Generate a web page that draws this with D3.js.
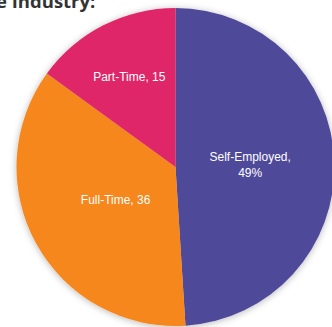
<!DOCTYPE html>
<html><head><meta charset="utf-8">
<script src="https://cdn.jsdelivr.net/npm/d3@7"></script>
<style>html,body{margin:0;padding:0;background:#fff;overflow:hidden}</style>
</head><body>
<svg id="c" width="332" height="327"></svg>
<script>
const categories = ["Self-Employed", "Full-Time", "Part-Time"];
const values = [49, 36, 15];
const labelTexts = [["Self-Employed,", "49%"], ["Full-Time, 36"], ["Part-Time, 15"]];
const colors = ["#504a9a", "#f6871f", "#df2667"];
const titleText = "e Industry:";

const W = 332, H = 327, cx = 175.5, cy = 167, R = 159;
const labelFrac = [0.47, 0.43, 0.64];

const svg = d3.select("#c");
const defs = svg.append("defs");
const f = defs.append("filter").attr("id","sh").attr("x","-20%").attr("y","-20%").attr("width","140%").attr("height","140%");
f.append("feDropShadow").attr("dx",0).attr("dy",1).attr("stdDeviation",3.5).attr("flood-color","#000").attr("flood-opacity",0.28);

svg.append("text").attr("x", -4).attr("y", 8)
  .attr("font-family","'Open Sans', sans-serif").attr("font-weight",700)
  .attr("font-size",18.5).attr("fill","#333").text(titleText);

const pie = d3.pie().sort(null).value(d => d.v);
const data = categories.map((c,i)=>({c, v: values[i], i}));
const arcs = pie(data);
const arc = d3.arc().innerRadius(0).outerRadius(R);

const g = svg.append("g").attr("transform",`translate(${cx},${cy})`);
g.append("g").attr("filter","url(#sh)").selectAll("path").data(arcs).join("path")
  .attr("d", arc).attr("fill", d => colors[d.data.i]);

arcs.forEach(d => {
  const lr = R * labelFrac[d.data.i];
  const la = d3.arc().innerRadius(lr).outerRadius(lr);
  const [x,y] = la.centroid(d);
  const lines = labelTexts[d.data.i];
  const lh = 16;
  const t = g.append("text").attr("text-anchor","middle")
    .attr("font-family","'Liberation Sans', Arial, sans-serif").attr("font-size",12)
    .attr("fill","#fff");
  lines.forEach((ln,k)=>{
    t.append("tspan").attr("x", x).attr("y", y + 4.3 + (k - (lines.length-1)/2)*lh).text(ln);
  });
});
</script>
</body></html>
